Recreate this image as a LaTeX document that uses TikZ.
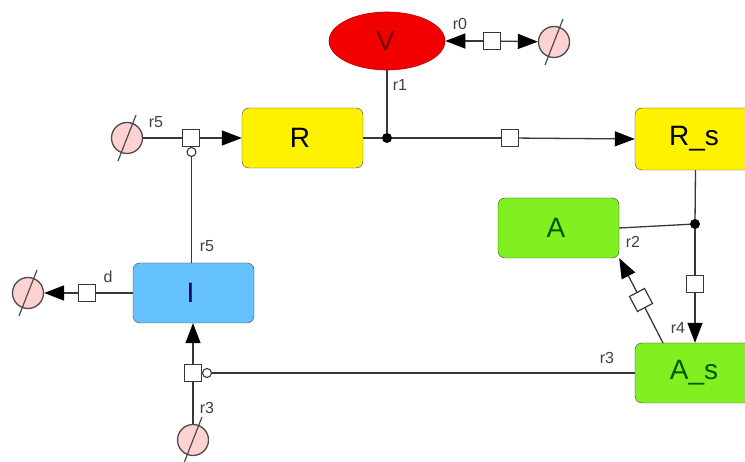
\documentclass[tikz,border=0pt]{standalone}
\usepackage{fontspec}
\setmainfont{Liberation Sans}
\usetikzlibrary{arrows.meta,shapes.geometric}
\definecolor{spgreen}{RGB}{128,240,32}
\definecolor{spblue}{RGB}{102,194,255}
\tikzset{
  x=1pt,y=-1pt,
  line width=1.3pt,
  conn/.style={draw=black!78,line width=1.3pt},
  tip/.style={-{Triangle[length=20pt,width=15pt,color=black]}},
  sp/.style={draw=black!75,rounded corners=7pt,minimum width=121pt,minimum height=60pt,inner sep=0pt,font=\fontsize{28}{28}\selectfont},
  proc/.style={draw=black!78,fill=white,minimum size=17pt,inner sep=0pt,line width=1.2pt},
  junc/.style={circle,fill=black,minimum size=10pt,inner sep=0pt},
  modif/.style={circle,draw=black!78,fill=white,minimum size=9pt,inner sep=0pt,line width=1.1pt},
  nullset/.style={circle,draw=black!70,fill=red!18!white,minimum size=31pt,inner sep=0pt,line width=1.3pt},
  lab/.style={font=\fontsize{16}{16}\selectfont,text=black!75,inner sep=0pt}
}
\begin{document}
\begin{tikzpicture}
\clip (0,0) rectangle (745,462);
\fill[white] (0,0) rectangle (745,462);
% species
\node[draw=red!70!black,fill=red!95!black,ellipse,minimum width=116pt,minimum height=58pt,inner sep=0pt,font=\fontsize{28}{28}\selectfont,text=red!45!black,line width=.6pt] (V) at (387,41) {\kern-3pt V};
\node[sp,fill=yellow] (R) at (302.5,138) {\kern-5pt R};
\node[sp,fill=yellow,minimum height=62pt] (Rs) at (695.5,139) {\kern-3pt R\_s};
\node[sp,fill=spgreen,text=green!35!black] (A) at (558.5,228) {\kern-5pt A};
\node[sp,fill=spgreen,text=green!35!black] (As) at (695.5,373) {\kern-3pt A\_s};
\node[sp,fill=spblue,text=blue!40!black] (I) at (193.5,293) {\kern-6pt I};
% null sets
\node[nullset] (n0) at (554,42) {};
\node[nullset] (n5) at (127,138) {};
\node[nullset] (nd) at (28,293) {};
\node[nullset] (n3) at (193,440) {};
\foreach \n in {n0,n5,nd,n3}{\draw[black!70,line width=1.2pt] (\n.center)+(-9,23) -- +(9,-23);}
% process squares and junctions
\node[proc] (p0) at (492,41) {};
\node[proc] (p1) at (510,138) {};
\node[proc] (p5) at (191,138) {};
\node[proc] (pd) at (87,293) {};
\node[proc] (p3) at (193,373) {};
\node[proc] (p4) at (695,284) {};
\node[proc,rotate=28] (p2) at (641,300) {};
\node[junc] (j1) at (387,138) {};
\node[junc] (j2) at (695,224) {};
\node[modif] (m5) at (191.5,152) {};
\node[modif] (m3) at (207,373) {};
% connectors
\draw[conn,tip] (p0) -- (V);
\draw[conn,tip] (p0) -- (n0);
\draw[conn] (V.south) -- (j1);
\draw[conn] (R.east) -- (j1);
\draw[conn] (j1) -- (p1);
\draw[conn,tip] (p1) -- (Rs.west);
\draw[conn] (n5) -- (p5);
\draw[conn,tip] (p5) -- (R.west);
\draw[conn] (m5) -- (m5 |- I.north);
\draw[conn] (I.west) -- (pd);
\draw[conn,tip] (pd) -- (nd);
\draw[conn] (n3) -- (p3);
\draw[conn,tip] (p3) -- (p3 |- I.south);
\draw[conn] (m3) -- (As.west);
\draw[conn] (Rs.south) -- (j2);
\draw[conn] (j2) -- (p4);
\draw[conn,tip] (p4) -- (p4 |- As.north);
\draw[conn] (A.east) -- (j2);
\coordinate (as2) at (663,343);
\draw[conn] (as2) -- (p2);
\draw[conn,tip] (p2) -- (A.south east);
% labels
\node[lab] (l0) at (460,24) {r0};
\node[lab] (l1) at (400,85) {r1};
\node[lab] (l5) at (156,122) {r5};
\node[lab] (l5b) at (207,246) {r5};
\node[lab] (ld) at (108,277) {d};
\node[lab] (l3b) at (207,408) {r3};
\node[lab] (l3) at (607,358) {r3};
\node[lab] (l2) at (633,242) {r2};
\node[lab] (l4) at (678,328) {r4};
\end{tikzpicture}
\end{document}
